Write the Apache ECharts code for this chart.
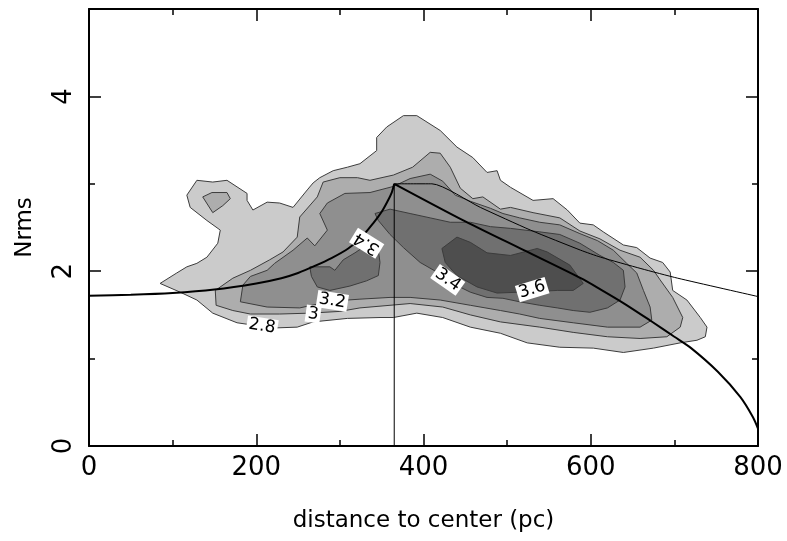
<!DOCTYPE html>
<html>
<head>
<meta charset="utf-8">
<script src="https://cdn.jsdelivr.net/npm/echarts@6/dist/echarts.min.js"></script>
<style>
html,body{margin:0;padding:0;background:#fff;}
#chart{width:787px;height:541px;}
</style>
</head>
<body>
<div id="chart"></div>
<script>
// ---- axis ticks ----
const xTicks = [0, 200, 400, 600, 800];
const yTicks = [0, 2, 4];

// ---- filled contour polygons [distance (pc), Nrms] ----
const c28 = [[85,1.86],[109,1.76],[129,1.67],[148,1.52],[177,1.41],[220,1.35],[249,1.36],[268,1.42],[309,1.46],[348,1.47],[364,1.47],[392,1.52],[423,1.47],[456,1.36],[492,1.29],[524,1.18],[563,1.13],[603,1.12],[639,1.07],[675,1.12],[707,1.18],[727,1.21],[737,1.25],[739,1.36],[731,1.47],[715,1.67],[698,1.78],[695,1.99],[686,2.10],[671,2.15],[655,2.27],[639,2.30],[615,2.45],[603,2.53],[587,2.55],[572,2.70],[555,2.83],[531,2.81],[504,2.96],[492,3.04],[488,3.15],[476,3.13],[459,3.30],[440,3.42],[420,3.61],[392,3.78],[376,3.78],[356,3.65],[344,3.53],[344,3.38],[324,3.23],[309,3.19],[292,3.15],[276,3.07],[268,3.01],[261,2.93],[244,2.73],[228,2.78],[213,2.79],[196,2.70],[189,2.81],[189,2.89],[165,3.04],[148,3.02],[129,3.04],[117,2.87],[121,2.73],[141,2.58],[157,2.47],[154,2.32],[141,2.16],[129,2.09],[117,2.05],[105,1.98]];
const c30 = [[152,1.61],[151,1.78],[172,1.92],[193,2.01],[216,2.13],[232,2.22],[249,2.39],[252,2.62],[273,2.85],[280,3.02],[300,3.07],[321,3.07],[336,3.04],[364,3.10],[387,3.19],[408,3.36],[420,3.35],[432,3.19],[444,2.95],[459,2.83],[471,2.85],[492,2.71],[504,2.73],[531,2.67],[563,2.61],[587,2.46],[611,2.37],[635,2.24],[659,2.16],[675,2.01],[683,1.90],[698,1.70],[710,1.47],[707,1.36],[691,1.25],[659,1.23],[620,1.25],[579,1.30],[539,1.36],[492,1.42],[456,1.50],[423,1.59],[384,1.63],[348,1.60],[324,1.58],[300,1.54],[264,1.52],[228,1.51],[193,1.51],[172,1.55]];
const c30island = [[136,2.85],[147,2.90],[165,2.90],[169,2.83],[160,2.75],[148,2.67]];
const c32 = [[181,1.65],[184,1.84],[193,1.94],[213,2.01],[222,2.09],[244,2.24],[261,2.38],[270,2.29],[285,2.47],[276,2.66],[285,2.78],[306,2.89],[336,2.90],[364,2.97],[384,3.06],[408,3.11],[423,3.03],[438,2.87],[456,2.80],[480,2.72],[495,2.66],[515,2.61],[539,2.56],[563,2.53],[587,2.43],[608,2.35],[627,2.24],[643,2.09],[655,1.98],[663,1.78],[671,1.59],[673,1.44],[659,1.36],[620,1.36],[579,1.41],[539,1.46],[515,1.51],[492,1.55],[456,1.61],[420,1.67],[384,1.70],[360,1.70],[324,1.68],[294,1.66],[276,1.63],[252,1.58],[213,1.59]];
const c34left = [[264,2.05],[288,2.05],[294,2.01],[304,2.13],[318,2.21],[332,2.30],[346,2.24],[348,2.10],[346,1.95],[332,1.89],[312,1.83],[288,1.78],[273,1.82],[266,1.94]];
const c34main = [[342,2.66],[360,2.71],[384,2.66],[408,2.61],[432,2.56],[456,2.56],[480,2.51],[504,2.49],[539,2.45],[563,2.42],[587,2.32],[611,2.18],[627,2.10],[639,2.01],[641,1.82],[635,1.67],[620,1.58],[599,1.53],[579,1.55],[560,1.58],[539,1.61],[515,1.65],[495,1.69],[476,1.70],[456,1.76],[435,1.86],[416,1.99],[396,2.10],[376,2.27],[360,2.42],[346,2.58]];
const c36 = [[422,2.26],[440,2.39],[456,2.33],[476,2.21],[504,2.18],[536,2.26],[548,2.22],[575,2.07],[591,1.86],[579,1.78],[560,1.78],[539,1.77],[515,1.76],[488,1.75],[464,1.82],[440,1.95],[426,2.10]];

// ---- model curves ----
const innerCurve = [[0,1.72],[50,1.73],[100,1.75],[150,1.79],[200,1.86],[230,1.92],[250,1.98],[270,2.06],[290,2.15],[310,2.26],[325,2.38],[340,2.55],[350,2.68],[357,2.80],[362,2.90],[365,3.0]];
const outerCurve = [[365,3.0],[450,2.57],[520,2.24],[588,1.92],[612,1.79],[640,1.63],[672,1.43],[700,1.25],[720,1.12],[752,0.85],[779,0.56],[794,0.33],[800,0.2]];
const thinCurve = [[365,3.0],[410,3.0],[468,2.73],[528,2.47],[588,2.24],[612,2.16],[660,2.03],[704,1.92],[800,1.71]];
const verticalLine = [[365,0],[365,3.0]];

// ---- contour labels ----
const labelText = ['2.8', '3', '3.2', '3.4', '3.4', '3.6'];
const labelX = [207, 268, 291, 332, 429, 530];
const labelY = [1.37, 1.51, 1.66, 2.32, 1.90, 1.79];
const labelAngle = [-9, -8, -9, 148, -35, 17];

// contour polygons in drawing order, with their fills
const polys = [c28, c30, c30island, c32, c34left, c34main, c36];
const fills = ['#cbcbcb', '#adadad', '#adadad', '#8f8f8f', '#707070', '#707070', '#4e4e4e'];

const FONT = 'DejaVu Sans';
const chart = echarts.init(document.getElementById('chart'), null, {renderer: 'canvas'});

function axisCommon(showLabel, isX) {
  return {
    type: 'value',
    min: 0,
    max: isX ? 800 : 5,
    interval: isX ? 200 : 2,
    axisLine: {show: true, onZero: false, lineStyle: {color: '#000', width: 2}},
    axisTick: {show: true, inside: true, length: 12, lineStyle: {color: '#000', width: 1.5}},
    minorTick: {show: true, splitNumber: 2, length: 6, lineStyle: {color: '#000', width: 1.5}},
    splitLine: {show: false},
    minorSplitLine: {show: false},
    axisLabel: {show: showLabel}
  };
}

const xBottom = Object.assign(axisCommon(true, true), {
  position: 'bottom',
  name: 'distance to center (pc)',
  nameLocation: 'middle',
  nameGap: 64,
  nameTextStyle: {fontFamily: FONT, fontSize: 23, color: '#000'},
  axisLabel: {show: true, fontFamily: FONT, fontSize: 26, color: '#000', margin: 9,
    formatter: v => xTicks.indexOf(v) >= 0 ? String(v) : ''}
});
const xTop = Object.assign(axisCommon(false, true), {position: 'top'});
const yLeft = Object.assign(axisCommon(true, false), {
  position: 'left',
  name: 'Nrms',
  nameLocation: 'middle',
  nameGap: 52,
  nameRotate: 90,
  nameTextStyle: {fontFamily: FONT, fontSize: 23, color: '#000'},
  axisLabel: {show: true, rotate: 90, fontFamily: FONT, fontSize: 26, color: '#000', margin: 12,
    showMaxLabel: false,
    formatter: v => yTicks.indexOf(v) >= 0 ? String(v) : ''}
});
const yRight = Object.assign(axisCommon(false, false), {position: 'right'});

const option = {
  animation: false,
  backgroundColor: '#fff',
  grid: {left: 89, right: 29, top: 9, bottom: 95, containLabel: false},
  xAxis: [xBottom, xTop],
  yAxis: [yLeft, yRight],
  series: [
    {
      type: 'custom',
      xAxisIndex: 0, yAxisIndex: 0,
      silent: true,
      z: 1,
      data: polys.map(p => p[0]),
      renderItem: function (params, api) {
        const poly = polys[params.dataIndex];
        const pts = poly.map(pt => api.coord(pt));
        return {
          type: 'polygon',
          shape: {points: pts},
          style: {fill: fills[params.dataIndex], stroke: '#3c3c3c', lineWidth: 1}
        };
      }
    },
    {type: 'line', data: verticalLine, showSymbol: false, silent: true, z: 3,
      lineStyle: {color: '#000', width: 1}},
    {type: 'line', data: thinCurve, showSymbol: false, silent: true, smooth: 0.2, z: 3,
      lineStyle: {color: '#000', width: 1}},
    {type: 'line', data: innerCurve, showSymbol: false, silent: true, smooth: 0.3, z: 3,
      lineStyle: {color: '#000', width: 2}},
    {type: 'line', data: outerCurve, showSymbol: false, silent: true, smooth: 0.3, z: 3,
      lineStyle: {color: '#000', width: 2}},
    {
      type: 'custom',
      silent: true,
      z: 5,
      data: labelText.map((t, i) => [labelX[i], labelY[i]]),
      renderItem: function (params, api) {
        const p = api.coord([api.value(0), api.value(1)]);
        return {
          type: 'text',
          x: p[0], y: p[1],
          rotation: labelAngle[params.dataIndex] * Math.PI / 180,
          style: {
            text: labelText[params.dataIndex],
            fontFamily: FONT, fontSize: 17, fill: '#000',
            align: 'center', verticalAlign: 'middle',
            backgroundColor: '#fff', padding: [0, 2, 0, 2]
          }
        };
      }
    }
  ]
};
chart.setOption(option);
</script>
</body>
</html>
